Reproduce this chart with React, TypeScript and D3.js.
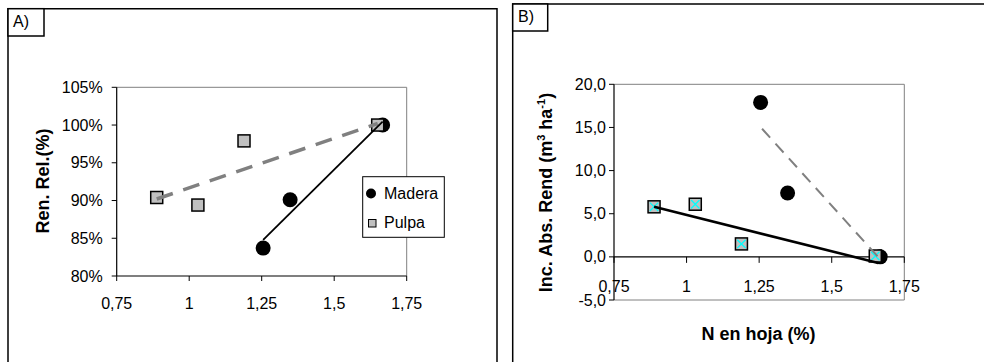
import React from "react";
import * as d3 from "d3";

// Leaf N (%) per treatment
const nLeafMadera = [1.255, 1.348, 1.667];
const nLeafPulpa = [0.888, 1.03, 1.189, 1.65];

// Panel A: relative yield (%)
const relMadera = [83.7, 90.1, 100.0];
const relPulpa = [90.4, 89.4, 97.9, 100.0];

// Panel B: absolute yield increase (m3 ha-1)
const incMadera = [17.9, 7.4, 0.0];
const incPulpa = [5.8, 6.1, 1.5, 0.1];

// Linear trend lines: [x, y] at both ends
const trendRelMadera: [number, number][] = [[1.255, 84.8], [1.667, 100.45]];
const trendRelPulpa: [number, number][] = [[0.888, 90.2], [1.65, 100.2]];
const trendIncMadera: [number, number][] = [[1.26, 14.85], [1.665, -0.2]];
const trendIncPulpa: [number, number][] = [[0.888, 5.8], [1.66, -0.7]];

// Axis ticks and labels
const xTicks = [0.75, 1, 1.25, 1.5, 1.75];
const xTickLabels = ["0,75", "1", "1,25", "1,5", "1,75"];
const yTicksA = [80, 85, 90, 95, 100, 105];
const yTickLabelsA = ["80%", "85%", "90%", "95%", "100%", "105%"];
const yTicksB = [-5, 0, 5, 10, 15, 20];
const yTickLabelsB = ["-5,0", "0,0", "5,0", "10,0", "15,0", "20,0"];

const seriesNames = ["Madera", "Pulpa"];

const FONT = "'Liberation Sans', Arial, sans-serif";
const GRAY = "#c0c0c0";
const LINE_GRAY = "#808080";

function Circle({ cx, cy, r }: { cx: number; cy: number; r: number }) {
  return <circle cx={cx} cy={cy} r={r} fill="#000" />;
}

function Square({ cx, cy, s, cross }: { cx: number; cy: number; s: number; cross?: boolean }) {
  const h = s / 2;
  return (
    <g>
      <rect x={cx - h} y={cy - h} width={s} height={s} fill={GRAY} stroke="#000" strokeWidth={1.5} />
      {cross && (
        <path
          d={`M${cx - h + 1.8},${cy - h + 1.8}L${cx + h - 1.8},${cy + h - 1.8}M${cx + h - 1.8},${cy - h + 1.8}L${cx - h + 1.8},${cy + h - 1.8}`}
          stroke="#00ffff"
          strokeWidth={1.3}
        />
      )}
    </g>
  );
}

function PanelA() {
  const x = d3.scaleLinear().domain([0.75, 1.75]).range([116.7, 406.7]);
  const y = d3.scaleLinear().domain([80, 105]).range([276, 87.3]);
  const line = d3
    .line<[number, number]>()
    .x((d) => x(d[0]))
    .y((d) => y(d[1]));
  const [x0, x1] = x.range();
  const [y0, y1] = y.range();
  return (
    <g>
      {/* panel frame and label */}
      <path d="M8,400V8.7H497V400" fill="none" stroke="#000" strokeWidth={1.5} />
      <rect x={8} y={8.7} width={36} height={27.3} fill="#fff" stroke="#000" strokeWidth={1.5} />
      <text x={13} y={27} fontSize={16} fontFamily={FONT}>A)</text>

      {/* plot area */}
      <path d={`M${x0},${y1}H${x1}V${y0}`} fill="none" stroke={LINE_GRAY} strokeWidth={1} />
      <line x1={x0} x2={x0} y1={y1} y2={y0} stroke="#000" strokeWidth={1.2} />
      <line x1={x0} x2={x1} y1={y0} y2={y0} stroke="#000" strokeWidth={1.2} />
      {yTicksA.map((t, i) => (
        <g key={t}>
          <line x1={x0 - 5} x2={x0} y1={y(t)} y2={y(t)} stroke="#000" strokeWidth={1} />
          <text x={x0 - 14} y={y(t) + 5.5} fontSize={16} fontFamily={FONT} textAnchor="end">
            {yTickLabelsA[i]}
          </text>
        </g>
      ))}
      {xTicks.map((t, i) => (
        <g key={t}>
          <line x1={x(t)} x2={x(t)} y1={y0} y2={y0 + 5} stroke="#000" strokeWidth={1} />
          <text x={x(t)} y={309} fontSize={16} fontFamily={FONT} textAnchor="middle">
            {xTickLabels[i]}
          </text>
        </g>
      ))}
      <text
        transform="translate(48.5,181) rotate(-90)"
        fontSize={18}
        fontWeight="bold"
        fontFamily={FONT}
        textAnchor="middle"
      >
        Ren. Rel.(%)
      </text>

      {/* markers */}
      {nLeafMadera.map((n, i) => (
        <Circle key={"m" + i} cx={x(n)} cy={y(relMadera[i])} r={7.5} />
      ))}
      {nLeafPulpa.map((n, i) => (
        <Square key={"p" + i} cx={x(n)} cy={y(relPulpa[i])} s={12} />
      ))}

      {/* trend lines */}
      <path d={line(trendRelPulpa) || ""} fill="none" stroke={LINE_GRAY} strokeWidth={3.5} strokeDasharray="17 11" />
      <path d={line(trendRelMadera) || ""} fill="none" stroke="#000" strokeWidth={1.8} />

      {/* legend */}
      <rect x={362.7} y={176.7} width={81.6} height={60.6} fill="#fff" stroke="#000" strokeWidth={1} />
      <circle cx={371} cy={193.5} r={5} fill="#000" />
      <text x={384} y={198.5} fontSize={16} fontFamily={FONT}>{seriesNames[0]}</text>
      <rect x={368.5} y={219.5} width={7.5} height={7.5} fill={GRAY} stroke="#000" strokeWidth={1} />
      <text x={384} y={227.5} fontSize={16} fontFamily={FONT}>{seriesNames[1]}</text>
    </g>
  );
}

function PanelB() {
  const x = d3.scaleLinear().domain([0.75, 1.75]).range([614, 904.3]);
  const y = d3.scaleLinear().domain([-5, 20]).range([300, 84.3]);
  const line = d3
    .line<[number, number]>()
    .x((d) => x(d[0]))
    .y((d) => y(d[1]));
  const [x0, x1] = x.range();
  const [y0, y1] = y.range();
  return (
    <g>
      {/* panel frame and label */}
      <path d="M512.7,400V4H1000" fill="none" stroke="#000" strokeWidth={1.5} />
      <rect x={512.7} y={4} width={35} height={27} fill="#fff" stroke="#000" strokeWidth={1.5} />
      <text x={518} y={21.5} fontSize={16} fontFamily={FONT}>B)</text>

      {/* plot area */}
      <path d={`M${x0},${y1}H${x1}V${y0}H${x0}`} fill="none" stroke={LINE_GRAY} strokeWidth={1} />
      <line x1={x0} x2={x0} y1={y1} y2={y0} stroke="#000" strokeWidth={1.2} />
      <line x1={x0} x2={x1} y1={y(0)} y2={y(0)} stroke="#000" strokeWidth={1.2} />
      {yTicksB.map((t, i) => (
        <g key={t}>
          <line x1={x0 - 5} x2={x0} y1={y(t)} y2={y(t)} stroke="#000" strokeWidth={1} />
          <text x={x0 - 8} y={y(t) + 5.5} fontSize={16} fontFamily={FONT} textAnchor="end">
            {yTickLabelsB[i]}
          </text>
        </g>
      ))}
      {xTicks.map((t, i) => (
        <g key={t}>
          <line x1={x(t)} x2={x(t)} y1={y(0)} y2={y(0) + 6} stroke="#000" strokeWidth={1} />
          <text x={x(t)} y={292} fontSize={16} fontFamily={FONT} textAnchor="middle">
            {xTickLabels[i]}
          </text>
        </g>
      ))}
      <text
        transform="translate(552,192.5) rotate(-90)"
        fontSize={18}
        fontWeight="bold"
        fontFamily={FONT}
        textAnchor="middle"
      >
        Inc. Abs. Rend (m
        <tspan fontSize={11} dy={-7}>3</tspan>
        <tspan dy={7}> ha</tspan>
        <tspan fontSize={11} dy={-7}>-1</tspan>
        <tspan dy={7}>)</tspan>
      </text>
      <text x={758.5} y={340} fontSize={18} fontWeight="bold" fontFamily={FONT} textAnchor="middle">
        N en hoja (%)
      </text>

      {/* markers */}
      {nLeafMadera.map((n, i) => (
        <Circle key={"m" + i} cx={x(n)} cy={y(incMadera[i])} r={7.5} />
      ))}
      {nLeafPulpa.map((n, i) => (
        <Square key={"p" + i} cx={x(n)} cy={y(incPulpa[i])} s={12} cross />
      ))}

      {/* trend lines */}
      <path d={line(trendIncMadera) || ""} fill="none" stroke={LINE_GRAY} strokeWidth={2} strokeDasharray="12 8" />
      <path d={line(trendIncPulpa) || ""} fill="none" stroke="#000" strokeWidth={2.6} />
    </g>
  );
}

export default function App() {
  return (
    <svg
      width={984}
      height={362}
      viewBox="0 0 984 362"
      style={{ position: "absolute", left: 0, top: 0, display: "block", background: "#fff" }}
    >
      <rect width={984} height={362} fill="#fff" />
      <PanelA />
      <PanelB />
    </svg>
  );
}
